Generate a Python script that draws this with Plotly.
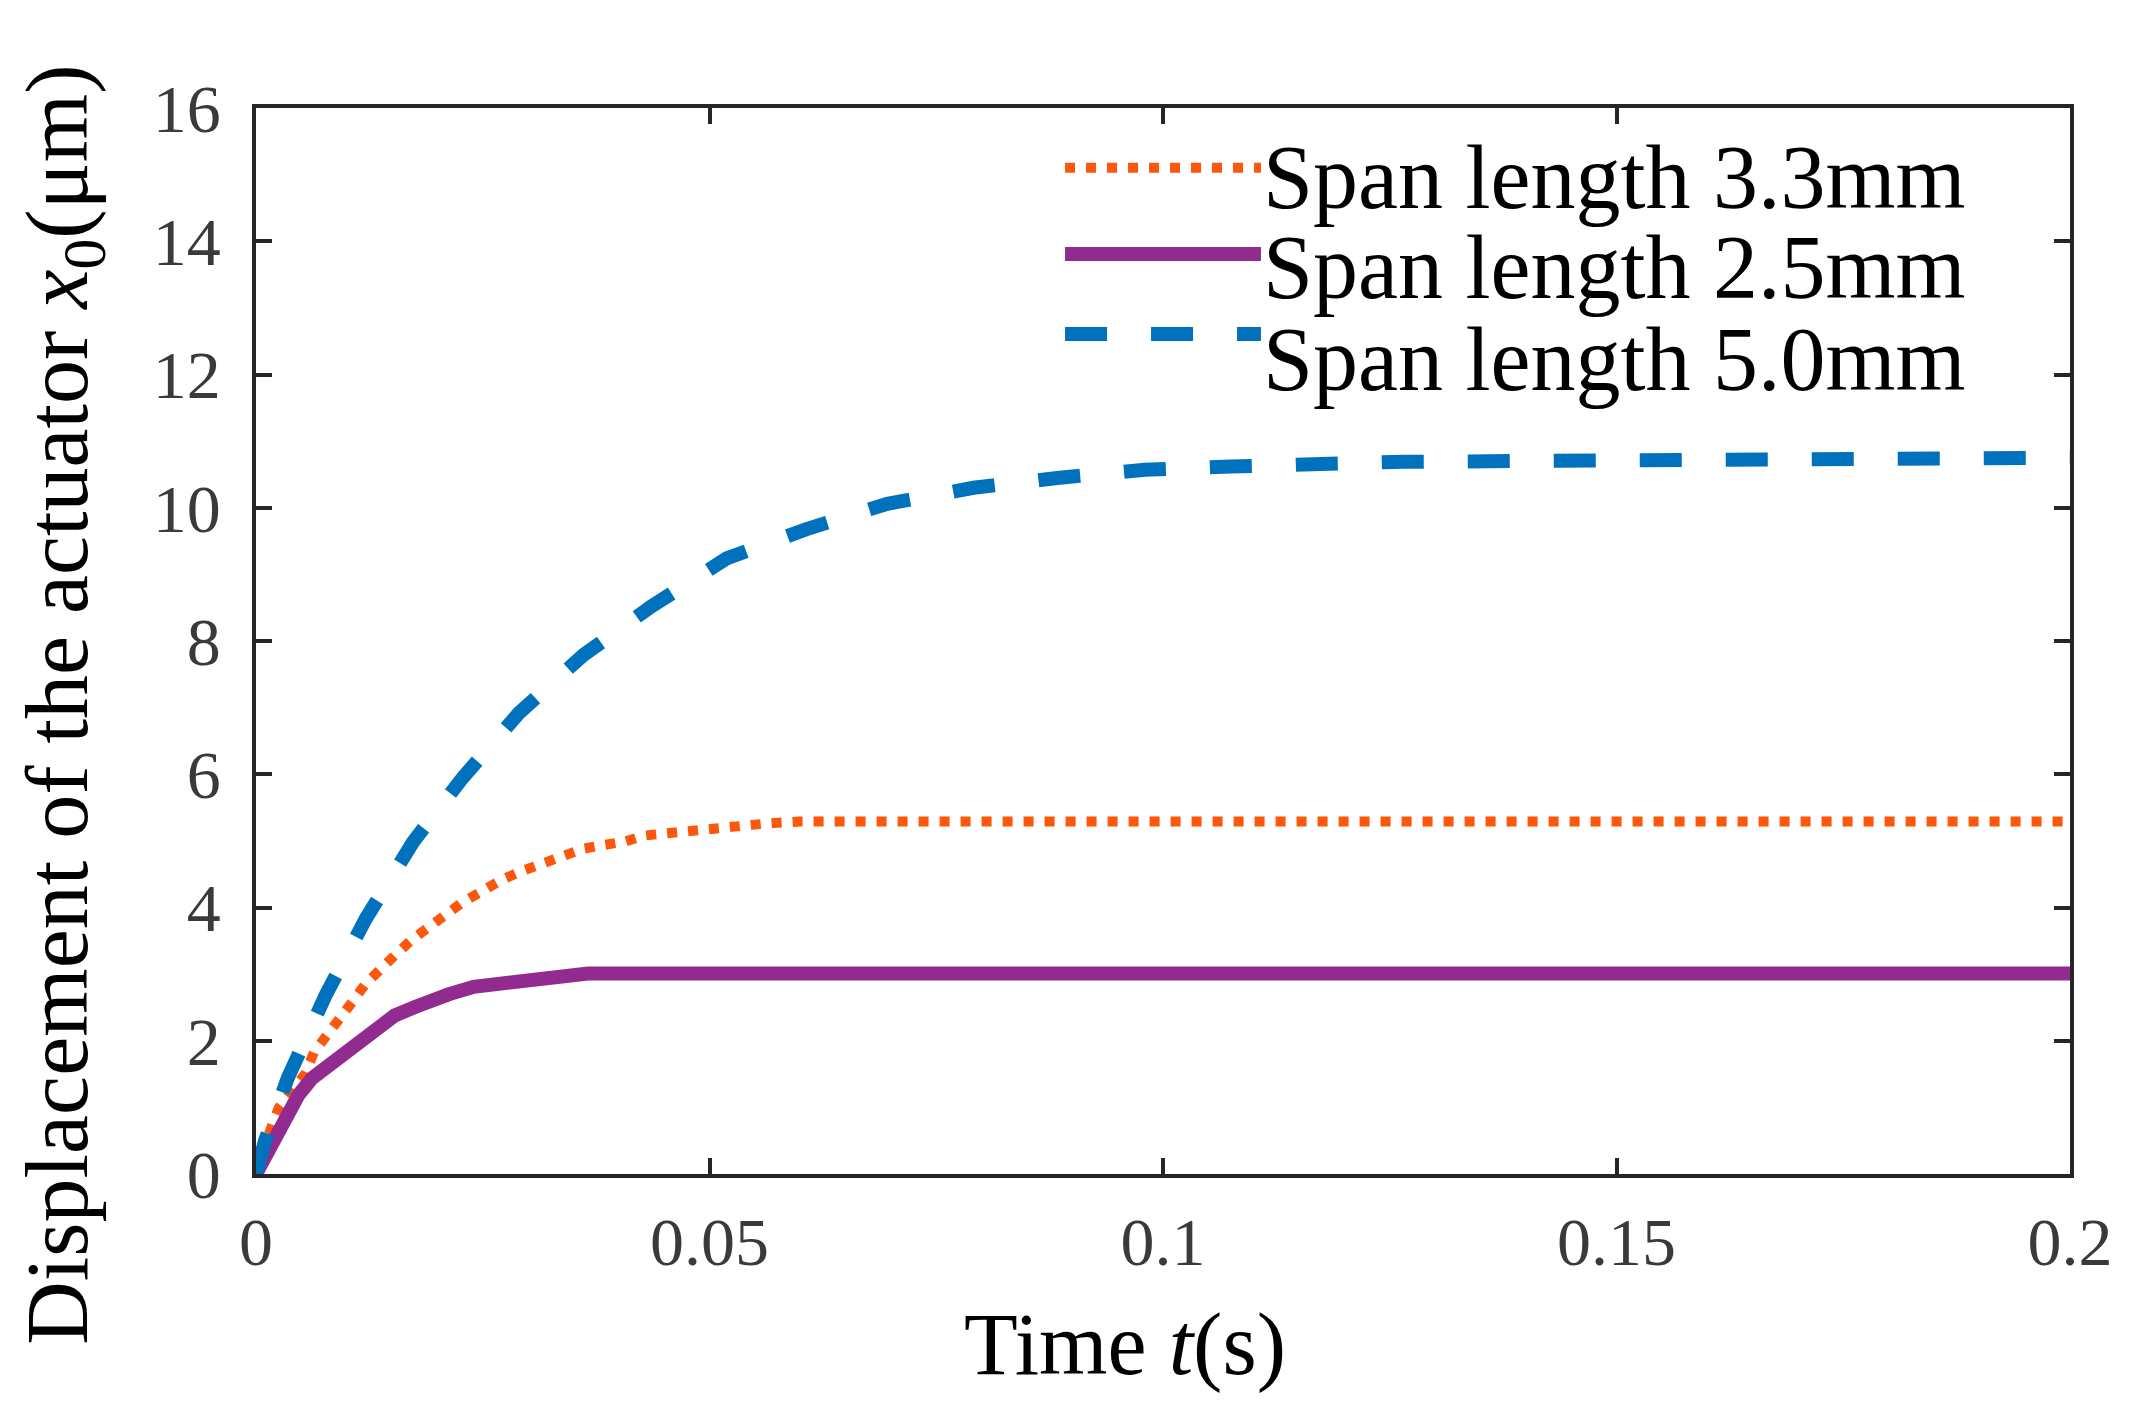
import plotly.graph_objects as go

# data
t_33 = [0, 0.0010, 0.0025, 0.0040, 0.0054, 0.0064, 0.0077, 0.0092, 0.0106, 0.0121, 0.0136,
        0.0153, 0.0172, 0.0190, 0.0208, 0.0228, 0.0250, 0.0270, 0.0292, 0.0312, 0.0337,
        0.0360, 0.0384, 0.0407, 0.0428, 0.0453, 0.0478, 0.0500, 0.0525, 0.0547, 0.0572,
        0.0600, 0.2]
v_33 = [0, 0.45, 0.99, 1.28, 1.50, 1.83, 2.08, 2.33, 2.58, 2.86, 3.07,
        3.28, 3.52, 3.69, 3.90, 4.08, 4.25, 4.41, 4.54, 4.63, 4.78,
        4.88, 4.94, 4.99, 5.08, 5.12, 5.15, 5.19, 5.20, 5.24, 5.27,
        5.29, 5.29]

t_25 = [0, 0.0020, 0.0032, 0.0047, 0.0062, 0.0082, 0.0099, 0.0116, 0.0134, 0.0153,
        0.0176, 0.0193, 0.0213, 0.0240, 0.0267, 0.0302, 0.0342, 0.0366, 0.2]
v_25 = [0, 0.53, 0.88, 1.19, 1.44, 1.65, 1.82, 2.03, 2.20, 2.38,
        2.51, 2.62, 2.70, 2.81, 2.86, 2.93, 2.97, 3.01, 3.01]

t_50 = [0, 0.0010, 0.0035, 0.0045, 0.0077, 0.0121, 0.0173, 0.0228, 0.0290, 0.0361,
        0.0436, 0.0519, 0.0607, 0.0696, 0.0791, 0.0886, 0.0980, 0.1075, 0.1170,
        0.1265, 0.1500, 0.1750, 0.2]
v_50 = [0, 0.50, 1.44, 1.75, 2.69, 3.83, 4.98, 5.95, 6.92, 7.79,
        8.52, 9.24, 9.68, 10.06, 10.30, 10.45, 10.57, 10.62, 10.67,
        10.69, 10.71, 10.73, 10.75]

names = ['Span length 3.3mm', 'Span length 2.5mm', 'Span length 5.0mm']
colors = ['#FC570A', '#912B8F', '#0072BD']

x_ticks = [0, 0.05, 0.1, 0.15, 0.2]
x_labels = ['0', '0.05', '0.1', '0.15', '0.2']
y_ticks = [0, 2, 4, 6, 8, 10, 12, 14, 16]

serif = 'Liberation Serif, Times New Roman, serif'

fig = go.Figure()

fig.add_scatter(x=t_33, y=v_33, mode='lines', name=names[0],
                line=dict(color=colors[0], width=10, dash='10px,11px'))
fig.add_scatter(x=t_25, y=v_25, mode='lines', name=names[1],
                line=dict(color=colors[1], width=14))
fig.add_scatter(x=t_50, y=v_50, mode='lines', name=names[2],
                line=dict(color=colors[2], width=14, dash='42px,44px'))

axis_style = dict(showline=True, linecolor='#262626', linewidth=3.5, mirror='ticks',
                  ticks='inside', ticklen=16, tickwidth=3.5, tickcolor='#262626',
                  showgrid=False, zeroline=False,
                  tickfont=dict(family=serif, size=68, color='#3a3a3a'))

fig.update_xaxes(range=[0, 0.2], tickvals=x_ticks, ticktext=x_labels,
                 ticklabelstandoff=6, **axis_style)
fig.update_yaxes(range=[0, 16], tickvals=y_ticks, ticklabelstandoff=18, **axis_style)

# legend drawn by hand (long sample lines like the original)
leg_y_line = [0.944, 0.863, 0.788]
leg_y_text = [0.935, 0.850, 0.764]
dashes = ['10px,11px', 'solid', '42px,44px']
widths = [10, 14, 14]
for i in range(3):
    fig.add_shape(type='line', xref='paper', yref='paper',
                  x0=0.446, x1=0.554, y0=leg_y_line[i], y1=leg_y_line[i],
                  line=dict(color=colors[i], width=widths[i], dash=dashes[i]))
    fig.add_annotation(x=0.554, y=leg_y_text[i], xref='paper', yref='paper',
                       text=names[i], showarrow=False, xanchor='left', yanchor='middle',
                       font=dict(family=serif, size=90, color='black'))

fig.add_annotation(x=-0.106, y=0.440, xref='paper', yref='paper',
                   text='Displacement of the actuator <i>x</i><sub>0</sub>(μm)',
                   textangle=-90, showarrow=False, xanchor='center', yanchor='middle',
                   font=dict(family=serif, size=88, color='black'))
fig.add_annotation(x=0.479, y=-0.160, xref='paper', yref='paper',
                   text='Time <i>t</i>(s)', showarrow=False,
                   xanchor='center', yanchor='middle',
                   font=dict(family=serif, size=88, color='black'))

fig.update_layout(width=2142, height=1401, showlegend=False,
                  margin=dict(l=248, r=80, t=100, b=235),
                  paper_bgcolor='white', plot_bgcolor='white')

fig.write_html('out.html')
